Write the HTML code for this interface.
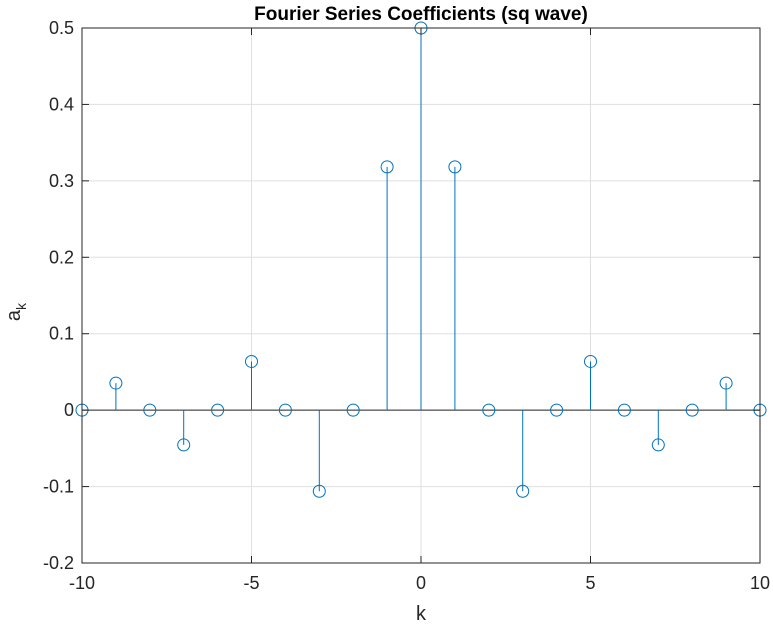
<!DOCTYPE html>
<html><head><meta charset="utf-8"><style>
body{margin:0;background:#fff;}
svg text{font-family:"Liberation Sans",Arial,sans-serif;fill:#262626;}
</style></head><body>
<svg id="chart" width="773" height="625" xmlns="http://www.w3.org/2000/svg">
<rect width="773" height="625" fill="#fff"/>
<g id="grid"></g>
<g id="stems"></g>
<g id="axes"></g>
</svg>
<script>
const kValues=[-10,-9,-8,-7,-6,-5,-4,-3,-2,-1,0,1,2,3,4,5,6,7,8,9,10];
const akValues=[0,0.0354,0,-0.0455,0,0.0637,0,-0.1061,0,0.3183,0.5,0.3183,0,-0.1061,0,0.0637,0,-0.0455,0,0.0354,0];
const xTicks=[-10,-5,0,5,10];
const yTicks=[-0.2,-0.1,0,0.1,0.2,0.3,0.4,0.5];
const L=82,R=760,T=28,B=563;
const xmin=-10,xmax=10,ymin=-0.2,ymax=0.5;
const sx=v=>L+(v-xmin)/(xmax-xmin)*(R-L);
const sy=v=>B-(v-ymin)/(ymax-ymin)*(B-T);
const NS="http://www.w3.org/2000/svg";
function mk(tag,attrs,parent){const e=document.createElementNS(NS,tag);for(const k in attrs)e.setAttribute(k,attrs[k]);parent.appendChild(e);return e;}
const grid=document.getElementById('grid'),stems=document.getElementById('stems'),axes=document.getElementById('axes');
xTicks.forEach(t=>{const l=mk('line',{x1:sx(t),x2:sx(t),y1:T,y2:B,stroke:'#dfdfdf','stroke-width':1},grid);

});
yTicks.forEach(t=>{const l=mk('line',{x1:L,x2:R,y1:sy(t),y2:sy(t),stroke:'#dfdfdf','stroke-width':1},grid);

});
const base=mk('line',{x1:L,x2:R,y1:sy(0),y2:sy(0),stroke:'#262626','stroke-width':1},stems);


kValues.forEach((k,i)=>{const v=akValues[i];
const s=mk('line',{x1:sx(k),x2:sx(k),y1:sy(0),y2:sy(v),stroke:'#0072BD','stroke-width':1},stems);


const c=mk('circle',{cx:sx(k),cy:sy(v),r:6,fill:'none',stroke:'#0072BD','stroke-width':1},stems);

});
const box=mk('rect',{x:L,y:T,width:R-L,height:B-T,fill:'none',stroke:'#262626','stroke-width':1},axes);


xTicks.forEach(t=>{mk('line',{x1:sx(t),x2:sx(t),y1:B,y2:B-7,stroke:'#262626'},axes);mk('line',{x1:sx(t),x2:sx(t),y1:T,y2:T+7,stroke:'#262626'},axes);
const tx=mk('text',{x:sx(t),y:B+26,'text-anchor':'middle','font-size':18},axes);tx.textContent=t;

});
yTicks.forEach(t=>{mk('line',{x1:L,x2:L+7,y1:sy(t),y2:sy(t),stroke:'#262626'},axes);mk('line',{x1:R,x2:R-7,y1:sy(t),y2:sy(t),stroke:'#262626'},axes);
const tx=mk('text',{x:L-8,y:sy(t)+6,'text-anchor':'end','font-size':18},axes);tx.textContent=(t===0?'0':String(Math.round(t*10)/10));

});
</script>
<svg style="position:absolute;left:0;top:0" width="773" height="625">
<text x="421" y="20" text-anchor="middle" font-size="19" font-weight="bold" style="fill:#000">Fourier Series Coefficients (sq wave)</text>
<text x="421" y="620" text-anchor="middle" font-size="20">k</text>
<text transform="translate(20,312) rotate(-90)" text-anchor="middle" font-size="20">a<tspan font-size="14" dy="6">k</tspan></text>
</svg>
</body></html>
